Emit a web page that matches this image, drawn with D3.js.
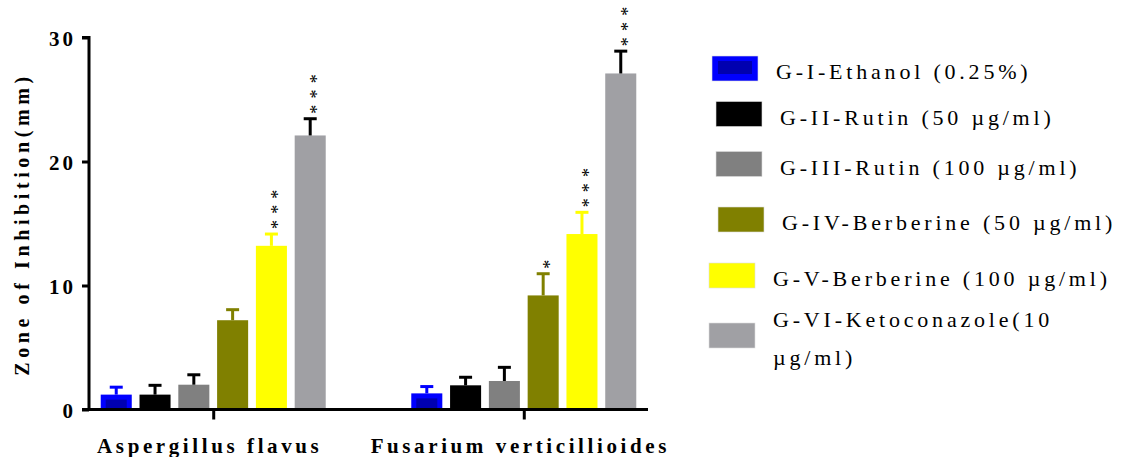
<!DOCTYPE html>
<html>
<head>
<meta charset="utf-8">
<script src="https://cdn.jsdelivr.net/npm/d3@7"></script>
<style>
html,body{margin:0;padding:0;background:#fff;}
svg{display:block;}
text{font-family:"Liberation Serif","Times New Roman",serif;}
</style>
</head>
<body>
<svg id="chart" width="1125" height="457"></svg>
<script>
// ---------- data ----------
const categories = ["Aspergillus flavus", "Fusarium verticillioides"];
const seriesNames = [
  "G-I-Ethanol (0.25%)",
  "G-II-Rutin (50 µg/ml)",
  "G-III-Rutin (100 µg/ml)",
  "G-IV-Berberine (50 µg/ml)",
  "G-V-Berberine (100 µg/ml)",
  "G-VI-Ketoconazole(10 µg/ml)"
];
const meanGI   = [1.2, 1.3];
const meanGII  = [1.2, 1.95];
const meanGIII = [2.0, 2.3];
const meanGIV  = [7.2, 9.2];
const meanGV   = [13.2, 14.15];
const meanGVI  = [22.1, 27.1];
const errGI    = [0.6, 0.55];
const errGII   = [0.75, 0.65];
const errGIII  = [0.8, 1.1];
const errGIV   = [0.85, 1.75];
const errGV    = [0.95, 1.75];
const errGVI   = [1.35, 1.8];
const starsGI   = ["", ""];
const starsGII  = ["", ""];
const starsGIII = ["", ""];
const starsGIV  = ["", "*"];
const starsGV   = ["***", "***"];
const starsGVI  = ["***", "***"];
const yTicks = [0, 10, 20, 30];
const yLabel = "Zone of Inhibition(mm)";

// ---------- styles / layout ----------
const barColors = ["#0000ff", "#000000", "#808080", "#808000", "#ffff00", "#a0a0a4"];
const errColors = ["#0000ff", "#000000", "#000000", "#808000", "#ffff00", "#000000"];
const legendRowY = [68.5, 114, 164, 219.5, 275.5, 335.5];
const legendRowX = [712, 716, 716, 718, 709, 709];

const means = [meanGI, meanGII, meanGIII, meanGIV, meanGV, meanGVI];
const errs = [errGI, errGII, errGIII, errGIV, errGV, errGVI];
const stars = [starsGI, starsGII, starsGIII, starsGIV, starsGV, starsGVI];

const svg = d3.select("#chart");
const y = d3.scaleLinear().domain([0, 30]).range([409.5, 37.5]);
const x0 = d3.scalePoint().domain(categories).range([89, 648]).padding(0.4);
const x1 = d3.scaleBand().domain(d3.range(seriesNames.length)).range([-112.5, 112.5]).paddingInner(0.2).paddingOuter(0);

const rows = [];
categories.forEach((c, ci) => {
  seriesNames.forEach((s, si) => {
    rows.push({c, ci, si, v: means[si][ci], e: errs[si][ci], st: stars[si][ci]});
  });
});

const bw = x1.bandwidth();
const g = svg.append("g");

// bars
g.selectAll("rect.bar").data(rows).join("rect")
  .attr("class", "bar")
  .attr("x", d => x0(d.c) + x1(d.si))
  .attr("width", bw)
  .attr("y", d => y(d.v))
  .attr("height", d => y(0) - y(d.v))
  .attr("fill", d => barColors[d.si]);

// inner darker rect on the blue bars (pattern)
g.selectAll("rect.inner").data(rows.filter(d => d.si === 0)).join("rect")
  .attr("class", "inner")
  .attr("x", d => x0(d.c) + x1(d.si) + 5)
  .attr("width", bw - 10)
  .attr("y", d => y(d.v) + 5)
  .attr("height", d => Math.max(0, y(0) - y(d.v) - 5))
  .attr("fill", "#0000b0");

// error bars
const capW = 13;
g.selectAll("line.ev").data(rows).join("line")
  .attr("x1", d => x0(d.c) + x1(d.si) + bw / 2)
  .attr("x2", d => x0(d.c) + x1(d.si) + bw / 2)
  .attr("y1", d => y(d.v))
  .attr("y2", d => y(d.v + d.e))
  .attr("stroke", d => errColors[d.si])
  .attr("stroke-width", 3);
g.selectAll("line.ec").data(rows).join("line")
  .attr("x1", d => x0(d.c) + x1(d.si) + bw / 2 - capW / 2)
  .attr("x2", d => x0(d.c) + x1(d.si) + bw / 2 + capW / 2)
  .attr("y1", d => y(d.v + d.e))
  .attr("y2", d => y(d.v + d.e))
  .attr("stroke", d => errColors[d.si])
  .attr("stroke-width", 3);

// significance stars: stacked vertically as one rotated text per bar
g.selectAll("text.star").data(rows.filter(d => d.st.length > 0)).join("text")
  .attr("class", "star")
  .attr("transform", d => {
    const cx = x0(d.c) + x1(d.si) + bw / 2 + 2.5;
    const yb = y(d.v + d.e) - 8.5 + 3.5;
    return `translate(${cx + 10.4},${yb}) rotate(-90)`;
  })
  .attr("text-anchor", "start")
  .attr("font-family", "Liberation Sans, Arial, sans-serif")
  .attr("font-size", 18)
  .attr("letter-spacing", 6.2)
  .attr("fill", "#000")
  .text(d => d.st);

// y axis
const yAxis = d3.axisLeft(y).tickValues(yTicks).tickSize(7).tickPadding(9).tickFormat(d3.format("d"));
const ya = svg.append("g").attr("transform", "translate(89,0)").call(yAxis);
ya.select(".domain").attr("stroke", "#000").attr("stroke-width", 3).attr("d", "M-7,37.5H0V409.5");
ya.selectAll(".tick line").attr("stroke", "#000").attr("stroke-width", 3);
ya.selectAll(".tick text")
  .attr("font-family", "Liberation Serif, serif")
  .attr("font-weight", "bold")
  .attr("font-size", 21)
  .attr("fill", "#000")
  .attr("letter-spacing", 3)
  .attr("dx", 3)
  .attr("dy", "0.36em");

// x axis
const xAxis = d3.axisBottom(x0).tickSize(10).tickPadding(20).tickSizeOuter(0);
const xa = svg.append("g").attr("transform", "translate(0,409.5)").call(xAxis);
xa.select(".domain").attr("stroke", "#000").attr("stroke-width", 3).attr("d", "M82,0H648");
xa.selectAll(".tick line").attr("stroke", "#000").attr("stroke-width", 3);
xa.selectAll(".tick text")
  .attr("font-family", "Liberation Serif, serif")
  .attr("font-weight", "bold")
  .attr("font-size", 21)
  .attr("fill", "#000")
  .attr("letter-spacing", 3.6)
  .attr("dx", -4)
  .attr("y", 43)
  .attr("dy", 0);

// y axis label
svg.append("text")
  .attr("transform", "translate(29,224) rotate(-90)")
  .attr("text-anchor", "middle")
  .attr("font-weight", "bold")
  .attr("font-size", 20)
  .attr("letter-spacing", 4.6)
  .attr("fill", "#000")
  .text(yLabel);

// legend
const leg = svg.append("g");
seriesNames.forEach((name, i) => {
  const cy = legendRowY[i], lx = legendRowX[i];
  leg.append("rect").attr("x", lx).attr("y", cy - 12.5).attr("width", 46).attr("height", 25)
    .attr("fill", barColors[i]).attr("stroke", "#ddd").attr("stroke-width", 0.6);
  if (i === 0) {
    leg.append("rect").attr("x", lx + 6).attr("y", cy - 7.5).attr("width", 34).attr("height", 13)
      .attr("fill", "#0000b0");
  }
  const t = leg.append("text")
    .attr("x", lx + 64)
    .attr("font-size", 22)
    .attr("letter-spacing", 3.8)
    .attr("fill", "#000");
  if (i === seriesNames.length - 1) {
    const parts = name.split(" ");
    t.append("tspan").attr("x", lx + 64).attr("y", cy - 8.5).text(parts[0]);
    t.append("tspan").attr("x", lx + 64).attr("y", cy + 29.5).text(parts.slice(1).join(" "));
  } else {
    t.attr("y", cy + 10.5).text(name);
  }
});
</script>
</body>
</html>
